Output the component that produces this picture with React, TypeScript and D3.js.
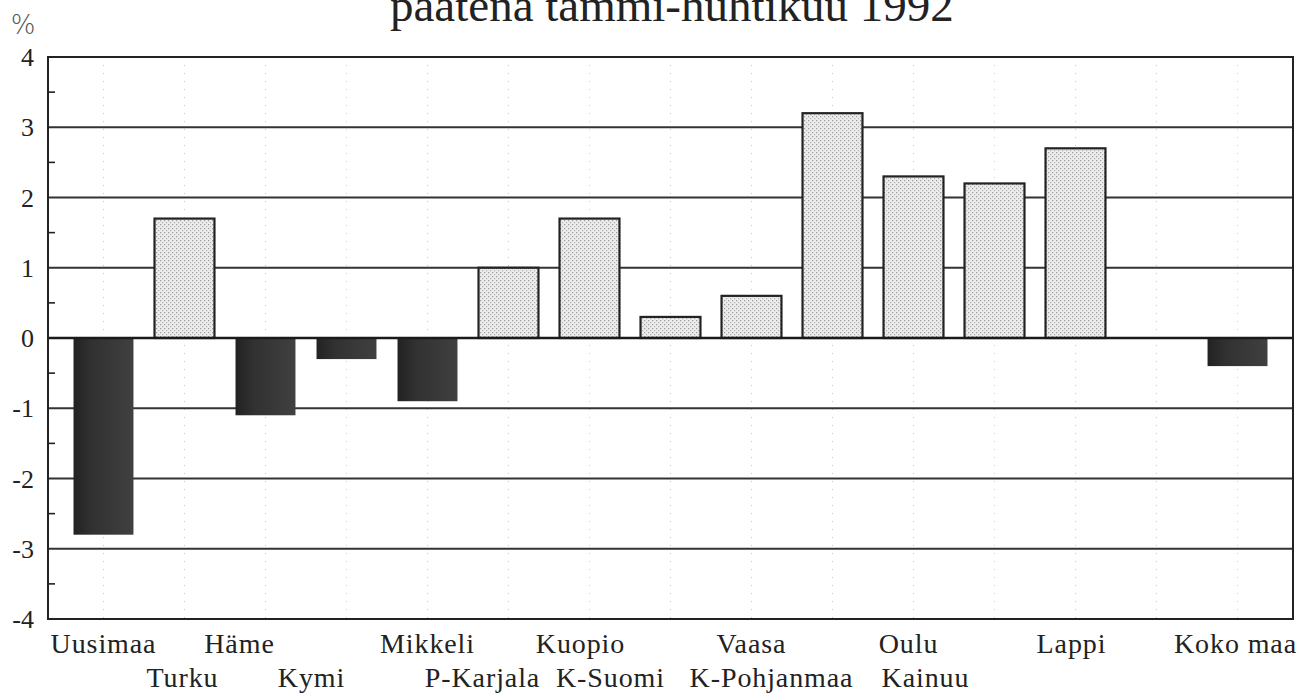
import React from "react";
import * as d3 from "d3";

const regions = ["Uusimaa","Turku","Häme","Kymi","Mikkeli","P-Karjala","Kuopio","K-Suomi","Vaasa","K-Pohjanmaa","Oulu","Kainuu","Lappi","","Koko maa"];
const values: (number | null)[] = [-2.8,1.7,-1.1,-0.3,-0.9,1.0,1.7,0.3,0.6,3.2,2.3,2.2,2.7,null,-0.4];
const yTicks = [-4,-3,-2,-1,0,1,2,3,4];
const yMinorTicks = [-3.5,-2.5,-1.5,-0.5,0.5,1.5,2.5,3.5];
const titleText = "päätenä tammi-huhtikuu 1992";
const unitLabel = "%";
// label nudges (layout only)
const labelNudge = [0,-2,-26,-35,0,-26,-9,-60,0,-61,-5,-69,-4,0,-2];

const W = 1311, H = 697;
const M = { left: 48, right: 1293, top: 57, bottom: 619 };

export default function App() {
  const x = d3.scaleBand<string>()
    .domain(regions.map((r, i) => String(i)))
    .range([M.left, M.right])
    .paddingInner(0.26)
    .paddingOuter(0.315);
  const y = d3.scaleLinear().domain([-4, 4]).range([M.bottom, M.top]);
  const font = "'Liberation Serif', 'Times New Roman', serif";
  const bw = x.bandwidth();

  return (
    <div style={{ position: "absolute", left: 0, top: 0 }}>
      <svg width={W} height={H} style={{ display: "block", background: "#fff" }}>
        <defs>
          <pattern id="stip" width="4" height="4" patternUnits="userSpaceOnUse">
            <rect width="4" height="4" fill="#ececec" />
            <rect x="0" y="0" width="1.2" height="1.2" fill="#9a9a9a" />
            <rect x="2" y="2" width="1.2" height="1.2" fill="#b0b0b0" />
          </pattern>
          <linearGradient id="dark" x1="0" x2="1" y1="0" y2="0">
            <stop offset="0" stopColor="#222" />
            <stop offset="0.3" stopColor="#313131" />
            <stop offset="1" stopColor="#404040" />
          </linearGradient>
        </defs>
        <text x={390} y={21} fontFamily={font} fontSize={47} fill="#222">{titleText}</text>
        <text x={23} y={34} fontFamily="'DejaVu Sans', sans-serif" fontWeight={200} fontSize={26} textAnchor="middle" fill="#555">{unitLabel}</text>

        {/* faint dotted verticals */}
        {regions.map((r, i) => (
          <line key={"v" + i} x1={x(String(i))! + bw / 2} x2={x(String(i))! + bw / 2}
            y1={M.top} y2={M.bottom} stroke="#c8c8c8" strokeWidth={1} strokeDasharray="1 7" />
        ))}

        {/* gridlines */}
        {yTicks.filter(t => t !== 0 && Math.abs(t) !== 4).map(t => (
          <line key={"g" + t} x1={M.left} x2={M.right} y1={y(t)} y2={y(t)} stroke="#333" strokeWidth={1.8} />
        ))}

        {/* bars */}
        {values.map((v, i) => {
          if (v === null) return null;
          const x0 = x(String(i))!;
          const y0 = y(Math.max(0, v));
          const h = Math.abs(y(v) - y(0));
          return v >= 0 ? (
            <rect key={"b" + i} x={x0} y={y0} width={bw} height={h} fill="url(#stip)" stroke="#222" strokeWidth={2.2} />
          ) : (
            <rect key={"b" + i} x={x0} y={y0} width={bw} height={h} fill="url(#dark)" />
          );
        })}

        {/* zero line */}
        <line x1={M.left} x2={M.right} y1={y(0)} y2={y(0)} stroke="#1a1a1a" strokeWidth={2.4} />

        {/* frame */}
        <rect x={M.left} y={M.top} width={M.right - M.left} height={M.bottom - M.top} fill="none" stroke="#222" strokeWidth={2} />

        {/* minor ticks */}
        {yMinorTicks.map(t => (
          <line key={"m" + t} x1={M.left} x2={M.left + 7} y1={y(t)} y2={y(t)} stroke="#222" strokeWidth={1.6} />
        ))}

        {/* y labels */}
        {yTicks.map(t => (
          <text key={"yl" + t} x={34} y={y(t)} dy="0.35em" textAnchor="end" fontFamily={font} fontSize={26} fill="#222">{t}</text>
        ))}

        {/* x labels */}
        {regions.map((r, i) => r ? (
          <text key={"xl" + i} x={x(String(i))! + bw / 2 + labelNudge[i]} y={i % 2 === 0 ? 653 : 687}
            textAnchor="middle" fontFamily={font} fontSize={28} letterSpacing={0.9} fill="#222">{r}</text>
        ) : null)}
      </svg>
    </div>
  );
}
